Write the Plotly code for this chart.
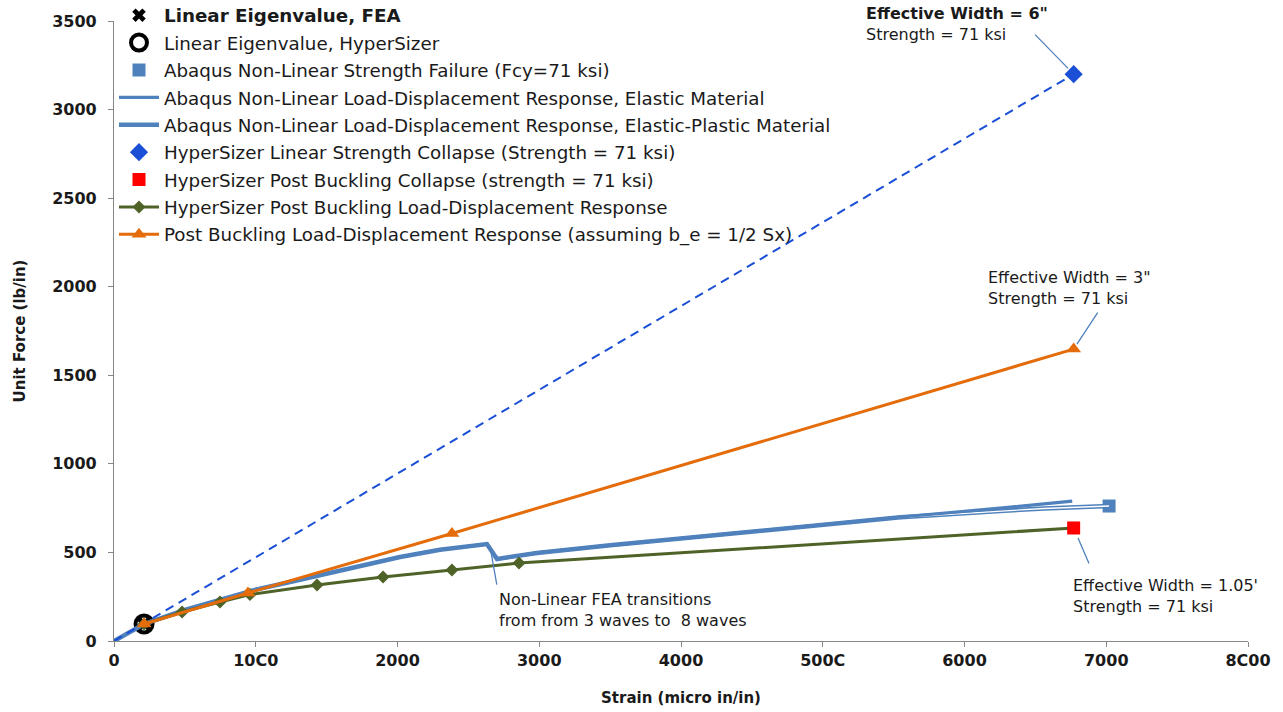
import plotly.graph_objects as go

# ---- data (strain in micro in/in, unit force in lb/in) ----
eig_x = [212]
eig_y = [96]

abaqus_fail_x = [7020]
abaqus_fail_y = [762]

abaqus_el_x = [0, 212, 500, 1000, 1242, 1500, 2018, 2300, 2631, 2702, 2984,
               3500, 4000, 4500, 5000, 5550, 6250, 6760]
abaqus_el_y = [0, 96, 175, 290, 333, 380, 474, 515, 547, 463, 497,
               540, 580, 618, 658, 700, 750, 790]

abaqus_ep_x = [0, 212, 500, 1000, 1242, 1500, 2018, 2300, 2631, 2702, 2984,
               3500, 4000, 4500, 5000, 5550, 6250, 6560, 7020]
abaqus_ep_y = [0, 96, 175, 290, 333, 380, 474, 515, 547, 463, 497,
               540, 580, 618, 658, 698, 734, 748, 762]

hs_linear_line_x = [0, 6770]
hs_linear_line_y = [0, 3200]
hs_linear_x = [6770]
hs_linear_y = [3200]

hs_pb_collapse_x = [6770]
hs_pb_collapse_y = [638]

hs_pb_x = [212, 480, 748, 959, 1432, 1898, 2384, 2857, 6770]
hs_pb_y = [96, 164, 220, 262, 316, 361, 401, 440, 638]

pb_half_x = [212, 945, 2384, 6770]
pb_half_y = [96, 271, 607, 1648]

x_tickvals = [0, 1000, 2000, 3000, 4000, 5000, 6000, 7000, 8000]
x_ticktext = ["0", "10C0", "2000", "3000", "4000", "500C", "6000", "7000", "8C00"]
y_tickvals = [0, 500, 1000, 1500, 2000, 2500, 3000, 3500]

# ---- styling ----
FONT = "DejaVu Sans"
TXT = "#1a1a1a"
ABQ_BLUE = "#4F81BD"
HS_BLUE = "#1A4FD6"
RED = "#FF0000"
GREEN = "#4F6228"
ORANGE = "#E46C0A"
AXIS_GRAY = "#868686"

fig = go.Figure()

fig.add_trace(go.Scatter(
    x=eig_x, y=eig_y, mode="markers", name="<b>Linear Eigenvalue, FEA</b>",
    legendgroup="g1", legendrank=1,
    marker=dict(symbol="x", size=12, color="black")))

fig.add_trace(go.Scatter(
    x=eig_x, y=eig_y, mode="markers", name="Linear Eigenvalue, HyperSizer",
    legendgroup="g2", legendrank=2,
    marker=dict(symbol="circle-open", size=17, color="black",
                line=dict(width=4, color="black"))))

fig.add_trace(go.Scatter(
    x=abaqus_fail_x, y=abaqus_fail_y, mode="markers",
    name="Abaqus Non-Linear Strength Failure (Fcy=71 ksi)",
    legendgroup="g3", legendrank=3,
    marker=dict(symbol="square", size=13, color=ABQ_BLUE)))

# elastic-plastic response: double line (blue outer stroke, white core)
fig.add_trace(go.Scatter(
    x=abaqus_ep_x, y=abaqus_ep_y, mode="lines",
    name="Abaqus Non-Linear Load-Displacement Response, Elastic-Plastic Material",
    legendgroup="g5", legendrank=5,
    line=dict(color=ABQ_BLUE, width=4.5)))
fig.add_trace(go.Scatter(
    x=abaqus_ep_x, y=abaqus_ep_y, mode="lines", showlegend=False,
    legendgroup="g5", hoverinfo="skip",
    line=dict(color="white", width=1.3)))

fig.add_trace(go.Scatter(
    x=abaqus_el_x, y=abaqus_el_y, mode="lines",
    name="Abaqus Non-Linear Load-Displacement Response, Elastic Material",
    legendgroup="g4", legendrank=4,
    line=dict(color=ABQ_BLUE, width=3.2)))

fig.add_trace(go.Scatter(
    x=hs_linear_line_x, y=hs_linear_line_y, mode="lines", showlegend=False,
    legendgroup="g6", hoverinfo="skip",
    line=dict(color=HS_BLUE, width=2, dash="9px,6px")))
fig.add_trace(go.Scatter(
    x=hs_linear_x, y=hs_linear_y, mode="markers",
    name="HyperSizer Linear Strength Collapse (Strength = 71 ksi)",
    legendgroup="g6", legendrank=6,
    marker=dict(symbol="diamond", size=14, color=HS_BLUE)))

fig.add_trace(go.Scatter(
    x=hs_pb_x, y=hs_pb_y, mode="lines+markers",
    name="HyperSizer Post Buckling Load-Displacement Response",
    legendgroup="g8", legendrank=8,
    line=dict(color=GREEN, width=3),
    marker=dict(symbol="diamond", size=10, color=GREEN)))

# collapse point sits on top of the end of the green curve
fig.add_trace(go.Scatter(
    x=hs_pb_collapse_x, y=hs_pb_collapse_y, mode="markers",
    name="HyperSizer Post Buckling Collapse (strength = 71 ksi)",
    legendgroup="g7", legendrank=7,
    marker=dict(symbol="square", size=13, color=RED)))

fig.add_trace(go.Scatter(
    x=pb_half_x, y=pb_half_y, mode="lines+markers",
    name="Post Buckling Load-Displacement Response (assuming b_e = 1/2 Sx)",
    legendgroup="g9", legendrank=9,
    line=dict(color=ORANGE, width=3),
    marker=dict(symbol="triangle-up", size=13, color=ORANGE)))

# ---- callouts ----
def note(text, x, y):
    return dict(text=text, xref="paper", yref="paper", x=x, y=y,
                xanchor="left", yanchor="top", align="left", showarrow=False,
                font=dict(family=FONT, size=16, color=TXT))

def leader(x, y, ax, ay, standoff):
    return dict(text="", x=x, y=y, xref="x", yref="y", ax=ax, ay=ay,
                showarrow=True, arrowhead=0, arrowwidth=1.3,
                arrowcolor=ABQ_BLUE, standoff=standoff)

annotations = [
    note("<b>Effective Width = 6\"</b><br>Strength = 71 ksi", 0.661, 1.031),
    note("Effective Width = 3\"<br>Strength = 71 ksi", 0.769, 0.605),
    note("Effective Width = 1.05'<br>Strength = 71 ksi", 0.844, 0.108),
    note("Non-Linear FEA transitions<br>from from 3 waves to  8 waves", 0.338, 0.086),
    leader(hs_linear_x[0], hs_linear_y[0], -40, -41, 8),
    leader(pb_half_x[-1], pb_half_y[-1], 25, -38, 6),
    leader(hs_pb_collapse_x[0], hs_pb_collapse_y[0], 16, 37, 11),
    leader(2660, 502, 6, 34, 0),
]

axis_common = dict(
    showgrid=False, zeroline=False, showline=True, linecolor=AXIS_GRAY,
    linewidth=1.2, ticks="outside", ticklen=5, tickcolor=AXIS_GRAY,
    tickwidth=1.2,
    tickfont=dict(family=FONT, size=16, color=TXT, weight="bold"),
)

fig.update_layout(
    width=1283, height=712, autosize=False,
    margin=dict(l=114, r=35, t=21, b=71, autoexpand=False),
    paper_bgcolor="white", plot_bgcolor="white",
    font=dict(family=FONT, color=TXT),
    showlegend=True,
    legend=dict(x=0.0, y=1.039, xanchor="left", yanchor="top",
                bgcolor="rgba(0,0,0,0)", borderwidth=0,
                font=dict(family=FONT, size=18.3, color=TXT),
                tracegroupgap=0.6, itemwidth=40),
    xaxis=dict(range=[0, 8000], tickvals=x_tickvals, ticktext=x_ticktext,
               title=dict(text="Strain (micro in/in)", standoff=23,
                          font=dict(family=FONT, size=15, color=TXT, weight="bold")),
               **axis_common),
    yaxis=dict(range=[0, 3500], tickvals=y_tickvals,
               ticklabelstandoff=8,
               title=dict(text="Unit Force (lb/in)", standoff=22,
                          font=dict(family=FONT, size=15, color=TXT, weight="bold")),
               **axis_common),
    annotations=annotations,
)

fig.write_html("out.html")
